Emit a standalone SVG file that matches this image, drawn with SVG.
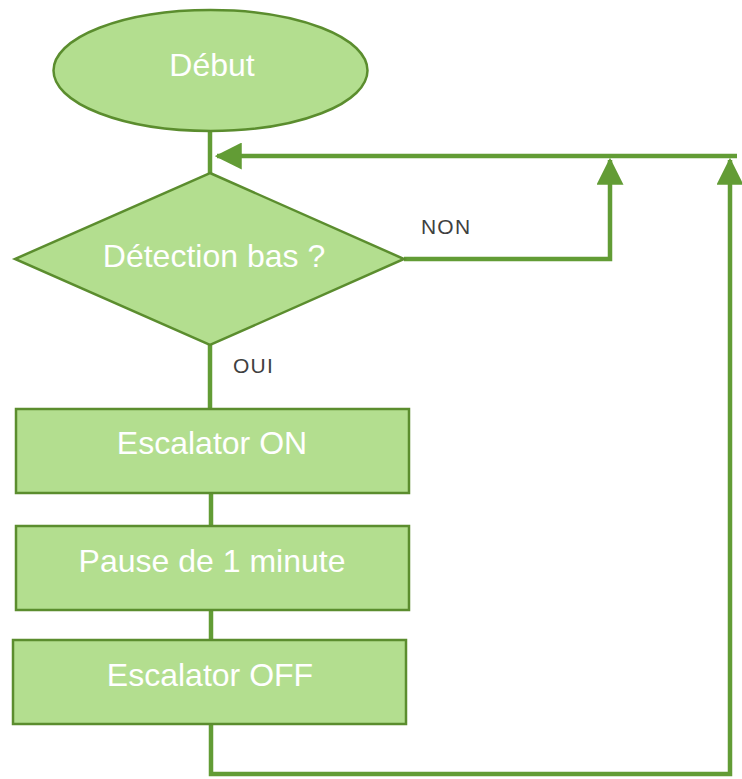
<svg xmlns="http://www.w3.org/2000/svg" width="742" height="779" viewBox="0 0 742 779">
<style>
.shape{fill:#b3de8f;stroke:#5b8d2e;stroke-width:2.5}
.lbl{fill:#ffffff;font-family:"Liberation Sans",Arial,sans-serif;font-size:32px;text-anchor:middle}
.small{fill:#404040;font-family:"Liberation Sans",Arial,sans-serif;font-size:21px;letter-spacing:1.2px}
.con{fill:none;stroke:#629c35;stroke-width:4.5}
</style>
<defs>
<marker id="ah" markerWidth="6" markerHeight="6" refX="5.5" refY="3" orient="auto" markerUnits="strokeWidth">
<path d="M0,0 L6,3 L0,6 Z" fill="#629c35"/>
</marker>
</defs>
<rect width="742" height="779" fill="#ffffff"/>
<g id="connectors">
<line class="con" x1="210" y1="131" x2="210" y2="174"/>
<line class="con" x1="737" y1="156" x2="217" y2="156" marker-end="url(#ah)"/>
<polyline class="con" points="404,259 610,259 610,160" marker-end="url(#ah)"/>
<polyline class="con" points="211,724 211,774 730,774 730,160" marker-end="url(#ah)"/>
<line class="con" x1="210" y1="345" x2="210" y2="409"/>
<line class="con" x1="211" y1="493" x2="211" y2="526"/>
<line class="con" x1="211" y1="610" x2="211" y2="640"/>
</g>
<g id="debut">
<ellipse class="shape" cx="210.5" cy="70.5" rx="157" ry="60.5"/>
<text class="lbl" x="212" y="76">Début</text>
</g>
<g id="detection">
<polygon class="shape" points="210,173 404,259 210,345 15,259"/>
<text class="lbl" x="214" y="267">Détection bas ?</text>
</g>
<g id="label-non"><text class="small" x="421" y="234">NON</text></g>
<g id="label-oui"><text class="small" x="233" y="373">OUI</text></g>
<g id="escalator-on">
<rect class="shape" x="16" y="409" width="393" height="84"/>
<text class="lbl" x="212" y="454">Escalator ON</text>
</g>
<g id="pause">
<rect class="shape" x="16" y="526" width="393" height="84"/>
<text class="lbl" x="212" y="572">Pause de 1 minute</text>
</g>
<g id="escalator-off">
<rect class="shape" x="13" y="640" width="393" height="84"/>
<text class="lbl" x="210" y="686">Escalator OFF</text>
</g>
</svg>
